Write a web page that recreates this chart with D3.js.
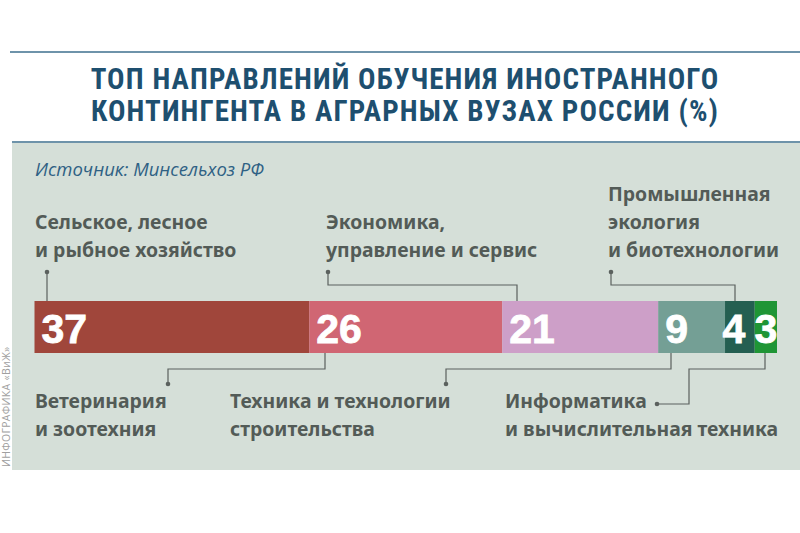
<!DOCTYPE html>
<html><head><meta charset="utf-8">
<script src="https://cdn.jsdelivr.net/npm/d3@7"></script>
<style>html,body{margin:0;padding:0;background:#fff;}svg{display:block;}</style>
</head><body>
<svg id="chart" width="800" height="533"></svg>
<script>
const title = ["ТОП НАПРАВЛЕНИЙ ОБУЧЕНИЯ ИНОСТРАННОГО", "КОНТИНГЕНТА В АГРАРНЫХ ВУЗАХ РОССИИ (%)"];
const source = "Источник: Минсельхоз РФ";
const credit = "ИНФОГРАФИКА «ВиЖ»";
const categories = [
  ["Сельское, лесное", "и рыбное хозяйство"],
  ["Ветеринария", "и зоотехния"],
  ["Экономика,", "управление и сервис"],
  ["Техника и технологии", "строительства"],
  ["Промышленная", "экология", "и биотехнологии"],
  ["Информатика", "и вычислительная техника"]
];
const values = [37, 26, 21, 9, 4, 3];
const colors = ["#a0463b", "#d06673", "#cd9fc8", "#749f95", "#245f51", "#1f9535"];
const side = ["top", "bottom", "top", "bottom", "top", "bottom"];

const svg = d3.select("#chart");
const textCol = "#535b57";

// panel and rules
svg.append("line").attr("x1", 10).attr("x2", 800).attr("y1", 52).attr("y2", 52).attr("stroke", "#6e93aa").attr("stroke-width", 2);
svg.append("rect").attr("x", 12).attr("y", 142).attr("width", 788).attr("height", 328).attr("fill", "#d5dfd8");
svg.append("line").attr("x1", 12).attr("x2", 800).attr("y1", 142).attr("y2", 142).attr("stroke", "#6e93aa").attr("stroke-width", 2);

// title
svg.append("g").selectAll("text").data(title).join("text")
  .attr("x", 405).attr("y", (d, i) => 89 + i * 32)
  .attr("text-anchor", "middle")
  .attr("font-family", "'Liberation Sans Narrow', 'Roboto Condensed', 'Open Sans', sans-serif")
  .attr("font-weight", "bold").attr("font-size", 29).attr("letter-spacing", 1.1)
  .attr("fill", "#1e4f6f").text(d => d);

svg.append("text").attr("x", 35).attr("y", 176).attr("font-family", "'Open Sans', sans-serif")
  .attr("font-style", "italic").attr("font-size", 18.5).attr("fill", "#2f6184").text(source);

svg.append("text").attr("transform", "translate(10,467) rotate(-90)")
  .attr("font-family", "'Open Sans', sans-serif").attr("font-size", 10.5).attr("letter-spacing", 0.3)
  .attr("fill", "#a0a0a0").text(credit);

// bar
const x = d3.scaleLinear().domain([0, d3.sum(values)]).range([34.5, 777]);
const starts = d3.cumsum([0, ...values]);
const barTop = 301, barBot = 353;
const segs = values.map((v, i) => ({ v, i, x0: x(starts[i]), x1: x(starts[i] + v) }));

svg.append("g").selectAll("rect").data(segs).join("rect")
  .attr("x", d => d.x0).attr("y", barTop).attr("width", d => d.x1 - d.x0).attr("height", barBot - barTop)
  .attr("fill", (d, i) => colors[i]);

svg.append("g").selectAll("text").data(segs).join("text")
  .attr("x", d => (d.x1 - d.x0) > 40 ? d.x0 + 7 : (d.x0 + d.x1) / 2 - (d.i < values.length - 1 ? 6 : 0))
  .attr("y", 343)
  .attr("text-anchor", d => (d.x1 - d.x0) > 40 ? "start" : "middle")
  .attr("font-family", "'Liberation Sans', Arial, sans-serif").attr("font-weight", "bold")
  .attr("font-size", 41).attr("fill", "#fff").attr("stroke", "#fff").attr("stroke-width", 0.8)
  .text(d => d.v);

// labels
const labelFont = "'Noto Sans', 'Open Sans', sans-serif";
const labelX = [35, 35, 326, 230, 608, 505];
function addLabel(i, x0, baseLast) {
  const lines = categories[i];
  const g = svg.append("g");
  lines.forEach((ln, k) => {
    const y = side[i] === "top" ? baseLast - (lines.length - 1 - k) * 28 : baseLast + k * 28;
    g.append("text").attr("x", x0).attr("y", y).attr("font-family", labelFont)
      .attr("font-weight", "bold").attr("font-size", 19.4).attr("fill", textCol).text(ln);
  });
}
segs.forEach((s, i) => addLabel(i, labelX[i], side[i] === "top" ? 257 : 408));

// connectors
const lineCol = "#5b615e";
const dot = (cx, cy) => svg.append("circle").attr("cx", cx).attr("cy", cy).attr("r", 2.3).attr("fill", lineCol);
const path = pts => svg.append("path").attr("d", d3.line()(pts)).attr("fill", "none").attr("stroke", lineCol).attr("stroke-width", 1.2);
const anchorX = [47, 325, 517, 671, 735, 765];
const dotX = [47, 168, 328, 446, 611, 657];

// top connectors
[0, 2, 4].forEach(i => {
  if (anchorX[i] === dotX[i]) path([[dotX[i], 272], [anchorX[i], barTop]]);
  else path([[dotX[i], 272], [dotX[i], 285], [anchorX[i], 285], [anchorX[i], barTop]]);
  dot(dotX[i], 272);
});
// bottom connectors
[1, 3].forEach(i => {
  path([[anchorX[i], barBot], [anchorX[i], 369], [dotX[i], 369], [dotX[i], 384]]);
  dot(dotX[i], 384);
});
path([[anchorX[5], barBot], [anchorX[5], 369], [689, 369], [689, 404], [dotX[5], 404]]);
dot(dotX[5], 404);
</script>
</body></html>
